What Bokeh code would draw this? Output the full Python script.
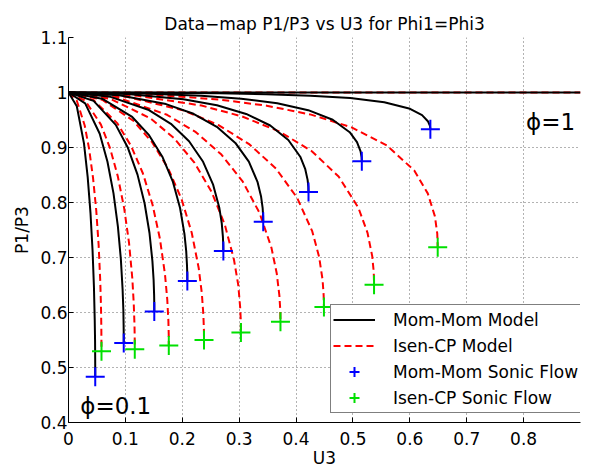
from bokeh.plotting import figure
from bokeh.models import Range1d, FixedTicker, Label, Legend, LegendItem
from bokeh.embed import file_html
from bokeh.resources import INLINE

# ---------------- data ----------------
x_ticks = [0, 0.1, 0.2, 0.3, 0.4, 0.5, 0.6, 0.7, 0.8]
x_tick_labels = ["0", "0.1", "0.2", "0.3", "0.4", "0.5", "0.6", "0.7", "0.8"]
y_ticks = [0.4, 0.5, 0.6, 0.7, 0.8, 0.9, 1, 1.1]
y_tick_labels = ["0.4", "0.5", "0.6", "0.7", "0.8", "0.9", "1", "1.1"]

# phi = 1 : both models stay at P1/P3 = 1
phi1_u3 = [0, 0.9]
phi1_p = [1, 1]

# Mom-Mom model, phi = 0.1 ... 0.9
mom_u3_01 = [0, 0.0146, 0.0272, 0.0337, 0.0387, 0.0423, 0.0447, 0.0461, 0.0467, 0.0469, 0.0470, 0.0470]
mom_p_01 = [1, 0.9751, 0.9074, 0.8467, 0.7801, 0.7124, 0.6472, 0.5867, 0.5478, 0.5168, 0.4973, 0.4833]
mom_u3_02 = [0, 0.0293, 0.0549, 0.0685, 0.0791, 0.0868, 0.0920, 0.0951, 0.0964, 0.0969, 0.0971, 0.0971]
mom_p_02 = [1, 0.9802, 0.9251, 0.8742, 0.8166, 0.7567, 0.6976, 0.6417, 0.6053, 0.5761, 0.5577, 0.5444]
mom_u3_03 = [0, 0.0441, 0.0831, 0.1044, 0.1213, 0.1338, 0.1423, 0.1475, 0.1496, 0.1505, 0.1508, 0.1508]
mom_p_03 = [1, 0.9847, 0.9411, 0.8994, 0.8507, 0.7982, 0.7450, 0.6935, 0.6595, 0.6320, 0.6146, 0.6020]
mom_u3_04 = [0, 0.0590, 0.1120, 0.1416, 0.1655, 0.1836, 0.1961, 0.2038, 0.2069, 0.2083, 0.2088, 0.2089]
mom_p_04 = [1, 0.9887, 0.9555, 0.9224, 0.8822, 0.8373, 0.7900, 0.7431, 0.7115, 0.6857, 0.6693, 0.6575]
mom_u3_05 = [0, 0.0739, 0.1414, 0.1800, 0.2119, 0.2366, 0.2540, 0.2650, 0.2694, 0.2714, 0.2720, 0.2722]
mom_p_05 = [1, 0.9921, 0.9681, 0.9431, 0.9113, 0.8740, 0.8331, 0.7910, 0.7620, 0.7380, 0.7227, 0.7116]
mom_u3_06 = [0, 0.0889, 0.1714, 0.2197, 0.2607, 0.2933, 0.3170, 0.3322, 0.3384, 0.3413, 0.3421, 0.3423]
mom_p_06 = [1, 0.9949, 0.9789, 0.9613, 0.9377, 0.9084, 0.8744, 0.8376, 0.8115, 0.7896, 0.7755, 0.7652]
mom_u3_07 = [0, 0.1040, 0.2020, 0.2609, 0.3123, 0.3546, 0.3864, 0.4074, 0.4162, 0.4203, 0.4216, 0.4219]
mom_p_07 = [1, 0.9971, 0.9876, 0.9767, 0.9610, 0.9400, 0.9137, 0.8832, 0.8606, 0.8412, 0.8285, 0.8193]
mom_u3_08 = [0, 0.1192, 0.2332, 0.3035, 0.3670, 0.4214, 0.4644, 0.4943, 0.5071, 0.5133, 0.5152, 0.5156]
mom_p_08 = [1, 0.9987, 0.9943, 0.9888, 0.9804, 0.9679, 0.9504, 0.9278, 0.9097, 0.8934, 0.8827, 0.8748]
mom_u3_09 = [0, 0.1344, 0.2650, 0.3478, 0.4253, 0.4954, 0.5551, 0.6004, 0.6215, 0.6321, 0.6354, 0.6361]
mom_p_09 = [1, 0.9997, 0.9985, 0.9969, 0.9943, 0.9898, 0.9823, 0.9703, 0.9588, 0.9473, 0.9393, 0.9333]

# Isen-CP model, phi = 0.1 ... 0.9
isen_u3_01 = [0, 0.0148, 0.0285, 0.0364, 0.0432, 0.0488, 0.0530, 0.0558, 0.0571, 0.0577, 0.0579, 0.0580]
isen_p_01 = [1, 0.9846, 0.9400, 0.8965, 0.8441, 0.7853, 0.7223, 0.6574, 0.6119, 0.5734, 0.5482, 0.5295]
isen_u3_02 = [0, 0.0296, 0.0570, 0.0730, 0.0867, 0.0979, 0.1064, 0.1122, 0.1147, 0.1160, 0.1164, 0.1165]
isen_p_02 = [1, 0.9850, 0.9416, 0.8990, 0.8475, 0.7893, 0.7267, 0.6618, 0.6162, 0.5775, 0.5521, 0.5333]
isen_u3_03 = [0, 0.0444, 0.0856, 0.1098, 0.1307, 0.1477, 0.1607, 0.1696, 0.1736, 0.1756, 0.1762, 0.1763]
isen_p_03 = [1, 0.9858, 0.9443, 0.9032, 0.8532, 0.7961, 0.7341, 0.6694, 0.6236, 0.5846, 0.5589, 0.5399]
isen_u3_04 = [0, 0.0593, 0.1145, 0.1472, 0.1755, 0.1987, 0.2166, 0.2289, 0.2344, 0.2371, 0.2380, 0.2382]
isen_p_04 = [1, 0.9868, 0.9481, 0.9093, 0.8614, 0.8061, 0.7451, 0.6806, 0.6346, 0.5952, 0.5691, 0.5498]
isen_u3_05 = [0, 0.0742, 0.1437, 0.1851, 0.2213, 0.2514, 0.2746, 0.2908, 0.2984, 0.3017, 0.3030, 0.3031]
isen_p_05 = [1, 0.9882, 0.9532, 0.9175, 0.8726, 0.8197, 0.7603, 0.6964, 0.6500, 0.6101, 0.5835, 0.5637]
isen_u3_06 = [0, 0.0891, 0.1732, 0.2239, 0.2688, 0.3064, 0.3359, 0.3567, 0.3660, 0.3707, 0.3723, 0.3726]
isen_p_06 = [1, 0.9899, 0.9595, 0.9278, 0.8871, 0.8378, 0.7809, 0.7179, 0.6714, 0.6307, 0.6034, 0.5830]
isen_u3_07 = [0, 0.1041, 0.2032, 0.2638, 0.3182, 0.3647, 0.4018, 0.4284, 0.4405, 0.4466, 0.4485, 0.4490]
isen_p_07 = [1, 0.9919, 0.9671, 0.9407, 0.9056, 0.8616, 0.8087, 0.7478, 0.7012, 0.6597, 0.6313, 0.6101]
isen_u3_08 = [0, 0.1192, 0.2338, 0.3051, 0.3704, 0.4277, 0.4748, 0.5095, 0.5256, 0.5339, 0.5366, 0.5371]
isen_p_08 = [1, 0.9943, 0.9763, 0.9565, 0.9293, 0.8932, 0.8473, 0.7906, 0.7449, 0.7025, 0.6730, 0.6504]
isen_u3_09 = [0, 0.1344, 0.2652, 0.3483, 0.4264, 0.4977, 0.5594, 0.6078, 0.6315, 0.6441, 0.6482, 0.6490]
isen_p_09 = [1, 0.9970, 0.9872, 0.9760, 0.9598, 0.9366, 0.9039, 0.8581, 0.8166, 0.7747, 0.7436, 0.7188]

# sonic (choked) end points
sonic_mom_u3 = [0.0470, 0.0971, 0.1508, 0.2089, 0.2722, 0.3423, 0.4219, 0.5156, 0.6361]
sonic_mom_p = [0.4833, 0.5444, 0.6020, 0.6575, 0.7116, 0.7652, 0.8193, 0.8748, 0.9333]
sonic_isen_u3 = [0.0580, 0.1165, 0.1763, 0.2382, 0.3031, 0.3726, 0.4490, 0.5371, 0.6490]
sonic_isen_p = [0.5295, 0.5333, 0.5399, 0.5498, 0.5637, 0.5830, 0.6101, 0.6504, 0.7188]

mom_curves = [(mom_u3_01, mom_p_01), (mom_u3_02, mom_p_02), (mom_u3_03, mom_p_03),
              (mom_u3_04, mom_p_04), (mom_u3_05, mom_p_05), (mom_u3_06, mom_p_06),
              (mom_u3_07, mom_p_07), (mom_u3_08, mom_p_08), (mom_u3_09, mom_p_09),
              (phi1_u3, phi1_p)]
isen_curves = [(isen_u3_01, isen_p_01), (isen_u3_02, isen_p_02), (isen_u3_03, isen_p_03),
               (isen_u3_04, isen_p_04), (isen_u3_05, isen_p_05), (isen_u3_06, isen_p_06),
               (isen_u3_07, isen_p_07), (isen_u3_08, isen_p_08), (isen_u3_09, isen_p_09),
               (phi1_u3, phi1_p)]

FONT = "DejaVu Sans"

# ---------------- figure ----------------
p = figure(width=593, height=474, output_backend="svg", toolbar_location=None,
           title="Data\u2212map P1/P3 vs U3 for Phi1=Phi3",
           x_range=Range1d(0, 0.9), y_range=Range1d(0.4, 1.1),
           min_border_left=68, min_border_right=13, min_border_top=37, min_border_bottom=52)
p.outline_line_color = None
p.background_fill_color = "white"
p.border_fill_color = "white"

p.title.align = "center"
p.title.text_font = FONT
p.title.text_font_size = "17px"
p.title.text_font_style = "normal"
p.title.text_color = "black"
p.title.standoff = 7

for ax, ticks, labels in ((p.xaxis, x_ticks, x_tick_labels), (p.yaxis, y_ticks, y_tick_labels)):
    ax.ticker = FixedTicker(ticks=ticks)
    ax.major_label_overrides = {t: l for t, l in zip(ticks, labels)}
    ax.axis_line_color = "black"
    ax.axis_line_width = 1
    ax.major_tick_in = 5
    ax.major_tick_out = 0
    ax.major_tick_line_color = "black"
    ax.minor_tick_line_color = None
    ax.major_label_text_font = FONT
    ax.major_label_text_font_size = "17px"
    ax.major_label_text_color = "black"
    ax.axis_label_text_font = FONT
    ax.axis_label_text_font_size = "17px"
    ax.axis_label_text_font_style = "normal"
    ax.axis_label_text_color = "black"
p.xaxis.axis_label = "U3"
p.yaxis.axis_label = "P1/P3"
p.xaxis.major_label_standoff = 9
p.xaxis.axis_label_standoff = 0
p.yaxis.major_label_standoff = 1
p.yaxis.axis_label_standoff = 5

for g in (p.xgrid, p.ygrid):
    g.grid_line_color = "black"
    g.grid_line_alpha = 0.6
    g.grid_line_width = 1
    g.grid_line_dash = "1 3"
p.xgrid.ticker = FixedTicker(ticks=x_ticks)
p.ygrid.ticker = FixedTicker(ticks=y_ticks)

red_r = None
for xs, ys in isen_curves:
    red_r = p.line(xs, ys, line_color="red", line_width=2, line_dash="7 4", line_join="round")
black_r = None
for xs, ys in mom_curves:
    black_r = p.line(xs, ys, line_color="black", line_width=2, line_join="round")

blue_r = p.scatter(sonic_mom_u3, sonic_mom_p, marker="cross", size=19,
                   line_color="blue", line_width=2)
green_r = p.scatter(sonic_isen_u3, sonic_isen_p, marker="cross", size=19,
                    line_color="#00e000", line_width=2)

legend = Legend(items=[
    LegendItem(label="Mom-Mom Model", renderers=[black_r]),
    LegendItem(label="Isen-CP Model", renderers=[red_r]),
    LegendItem(label="Mom-Mom Sonic Flow", renderers=[blue_r]),
    LegendItem(label="Isen-CP Sonic Flow", renderers=[green_r]),
], location=(262, 9))
legend.border_line_color = "black"
legend.border_line_width = 1
legend.background_fill_color = "white"
legend.background_fill_alpha = 1
legend.label_text_font = FONT
legend.label_text_font_size = "17px"
legend.label_text_color = "black"
legend.glyph_width = 42
legend.glyph_height = 25
legend.label_height = 25
legend.spacing = 1
legend.padding = 2
legend.label_standoff = 18
legend.margin = 0
p.add_layout(legend)

# phi annotations inside the axes
p.add_layout(Label(x=0.8044, y=0.9455, text="\u03d5=1", text_font=FONT, text_font_size="23px",
                   text_align="left", text_baseline="alphabetic", text_color="black"))
p.add_layout(Label(x=0.0206, y=0.4304, text="\u03d5=0.1", text_font=FONT, text_font_size="23px",
                   text_align="left", text_baseline="alphabetic", text_color="black"))

open("out.html", "w").write(file_html(p, INLINE))
